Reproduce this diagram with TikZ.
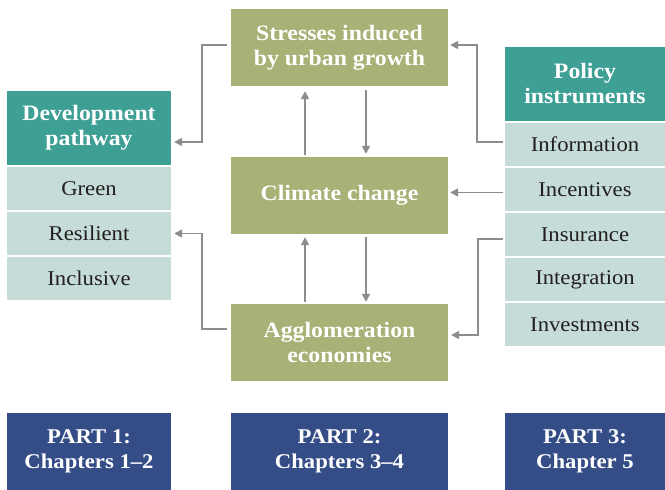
\documentclass[tikz,border=0pt]{standalone}
\usepackage{fontspec}
\setmainfont{Liberation Serif}[FakeStretch=1.08]
\usetikzlibrary{arrows.meta}

\definecolor{tealhead}{HTML}{3E9F95}
\definecolor{tealitem}{HTML}{C5DCD8}
\definecolor{olive}{HTML}{A8B277}
\definecolor{navy}{HTML}{354D86}
\definecolor{arrowgray}{HTML}{8A8C8F}
\definecolor{inktext}{HTML}{231F20}

\tikzset{
  box/.style={rectangle, inner sep=0pt, align=center, draw=none},
  headbox/.style={box, fill=tealhead, text=white, minimum height=74pt,
    font=\fontsize{22}{25}\selectfont\bfseries},
  itembox/.style={box, fill=tealitem, text=inktext, minimum height=43pt,
    font=\fontsize{21}{24}\selectfont},
  corebox/.style={box, fill=olive, text=white, minimum width=217pt, minimum height=77pt,
    font=\fontsize{22}{25}\selectfont\bfseries},
  partbox/.style={box, fill=navy, text=white, minimum height=77pt,
    font=\fontsize{21}{25}\selectfont\bfseries},
  leftcol/.style={minimum width=164pt},
  rightcol/.style={minimum width=160pt},
  link/.style={draw=arrowgray, line width=1.6pt,
    -{Triangle[length=8pt,width=8pt]}}
}

\begin{document}
\begin{tikzpicture}[x=1pt, y=-1pt]
\useasboundingbox[fill=white] (0,0) rectangle (665,490);

% Left column: development pathway
\node[headbox, leftcol] (dev)   at (89,128)   {Development\\pathway};
\node[itembox, leftcol] (green) at (89,188.5) {Green};
\node[itembox, leftcol] (resil) at (89,233.5) {Resilient};
\node[itembox, leftcol] (incl)  at (89,278.5) {Inclusive};

% Centre column: urban processes
\node[corebox] (stress)  at (339.5,47.5)  {Stresses induced\\by urban growth};
\node[corebox] (climate) at (339.5,195.5) {Climate change};
\node[corebox] (agglo)   at (339.5,342.5) {Agglomeration\\economies};

% Right column: policy instruments
\node[headbox, rightcol] (policy) at (585,84)    {Policy\\instruments};
\node[itembox, rightcol] (info)   at (585,144.5) {Information};
\node[itembox, rightcol] (incent) at (585,189.5) {Incentives};
\node[itembox, rightcol] (insur)  at (585,234.5) {Insurance};
\node[itembox, rightcol] (integ)  at (585,279.5) {Integration};
\node[itembox, rightcol] (invest) at (585,324.5) {Investments};

% Bottom row: book parts
\node[partbox, leftcol]  (part1) at (89,451.5)    {PART 1:\\Chapters 1--2};
\node[partbox, minimum width=217pt] (part2) at (339.5,451.5) {PART 2:\\Chapters 3--4};
\node[partbox, rightcol] (part3) at (585,451.5)   {PART 3:\\Chapter 5};

% Bend points of the elbow connectors
\coordinate (bendA) at (202,45);
\coordinate (bendB) at (202,329);
\coordinate (bendC) at (477,142);
\coordinate (bendD) at (478,239);

% Stresses -> development pathway
\draw[link] ([xshift=-4pt, yshift=2.5pt]stress.west) -- (bendA)
  |- ([xshift=3pt, yshift=-14pt]dev.east);
% Agglomeration -> resilient
\draw[link] ([xshift=-4pt, yshift=13.5pt]agglo.west) -- (bendB)
  |- ([xshift=3pt]resil.east);
% Information -> stresses
\draw[link] ([xshift=-2pt, yshift=2.5pt]info.west) -- (bendC)
  |- ([xshift=2pt, yshift=2.5pt]stress.east);
% Incentives -> climate change
\draw[link] ([xshift=-2pt, yshift=-3pt]incent.west) -- ([xshift=2pt, yshift=-3pt]incent.west -| climate.east);
% Insurance -> agglomeration
\draw[link] ([xshift=-2pt, yshift=-4.5pt]insur.west) -- (bendD)
  |- ([xshift=3pt, yshift=7.5pt]agglo.east);

% Vertical links between the centre boxes
\draw[link] ([yshift=2pt]climate.north -| 305,0) -- ([yshift=-5pt]stress.south -| 305,0);
\draw[link] ([yshift=-4pt]stress.south -| 366,0) -- ([yshift=3pt]climate.north -| 366,0);
\draw[link] ([yshift=2pt]agglo.north -| 305,0) -- ([yshift=-3pt]climate.south -| 305,0);
\draw[link] ([yshift=-3pt]climate.south -| 366,0) -- ([yshift=2pt]agglo.north -| 366,0);
\end{tikzpicture}
\end{document}
